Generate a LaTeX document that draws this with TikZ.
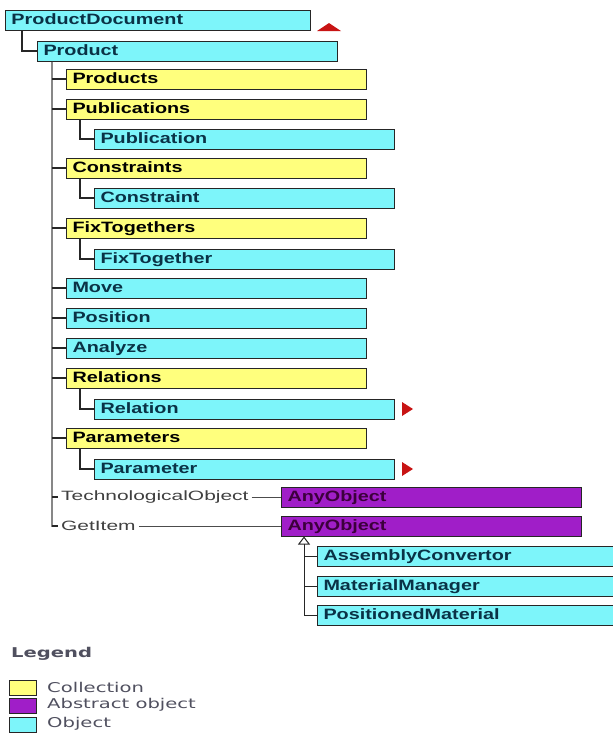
\documentclass[tikz,border=0pt]{standalone}
\usepackage{fontspec}
\usetikzlibrary{arrows.meta}
\newfontfamily\boxfont[FakeStretch=1.32]{Liberation Sans}
\newfontfamily\labelfont[FakeStretch=1.55]{Liberation Sans}
\newfontfamily\legendfont[FakeStretch=1.45]{DejaVu Sans}
\definecolor{objcyan}{RGB}{125,245,250}
\definecolor{collyellow}{RGB}{255,255,125}
\definecolor{abspurple}{RGB}{160,30,200}
\definecolor{objtext}{RGB}{10,50,70}
\definecolor{abstext}{RGB}{60,0,60}
\definecolor{trunkgray}{RGB}{135,135,135}
\definecolor{legendgray}{RGB}{80,80,95}
\definecolor{markred}{RGB}{200,20,20}
\begin{document}
\begin{tikzpicture}[x=1pt, y=-1pt,
    box/.style={draw=black!85, line width=1pt, anchor=west, minimum height=20pt,
        inner xsep=6pt, inner ysep=0pt, text width=288pt, align=left,
        text height=11pt, text depth=3pt,
        font=\boxfont\bfseries\fontsize{15pt}{15pt}\selectfont},
    obj/.style={box, fill=objcyan, text=objtext},
    coll/.style={box, fill=collyellow, text=black},
    abstract/.style={box, fill=abspurple, text=abstext},
    link/.style={anchor=west, inner xsep=3pt, inner ysep=0pt, text=black!75,
        font=\labelfont\fontsize{13.5pt}{13.5pt}\selectfont},
    tree/.style={draw=black!85, line width=1.2pt},
    trunk/.style={draw=trunkgray, line width=2pt},
    legsq/.style={draw=black!85, line width=1pt, minimum width=27pt, minimum height=15pt, inner sep=0pt},
    legtext/.style={anchor=west, inner xsep=3pt, text=legendgray,
        font=\legendfont\fontsize{13.5pt}{13.5pt}\selectfont}]
    \useasboundingbox (0,0) rectangle (613,740);

    \node[obj, text width=293pt] (productdoc) at (5,20) {ProductDocument};
    \node[obj] (product) at (37,51) {Product};
    \node[coll] (products) at (66,79) {Products};
    \node[coll] (publications) at (66,109) {Publications};
    \node[obj] (publication) at (94,139) {Publication};
    \node[coll] (constraints) at (66,168) {Constraints};
    \node[obj] (constraint) at (94,198) {Constraint};
    \node[coll] (fixtogethers) at (66,228) {FixTogethers};
    \node[obj] (fixtogether) at (94,259) {FixTogether};
    \node[obj] (move) at (66,288) {Move};
    \node[obj] (position) at (66,318) {Position};
    \node[obj] (analyze) at (66,348) {Analyze};
    \node[coll] (relations) at (66,378) {Relations};
    \node[obj] (relation) at (94,409) {Relation};
    \node[coll] (parameters) at (66,438) {Parameters};
    \node[obj] (parameter) at (94,469) {Parameter};
    \node[link] (techobj) at (58,497) {TechnologicalObject};
    \node[link] (getitem) at (58,526) {GetItem};
    \node[abstract] (anyobj1) at (281,497) {AnyObject};
    \node[abstract] (anyobj2) at (281,526) {AnyObject};
    \node[obj] (assembly) at (317,556) {AssemblyConvertor};
    \node[obj] (matman) at (317,586) {MaterialManager};
    \node[obj] (posmat) at (317,615) {PositionedMaterial};

    % tree lines
    \coordinate (trunk) at ([xshift=15pt]product.south west);
    \draw[tree] ([xshift=17pt]productdoc.south west) |- (product.west);
    \draw[trunk] (trunk) |- (getitem.west);
    \draw[tree] (trunk |- products.west) -- (products.west);
    \draw[tree] (trunk |- publications.west) -- (publications.west);
    \draw[tree] (trunk |- constraints.west) -- (constraints.west);
    \draw[tree] (trunk |- fixtogethers.west) -- (fixtogethers.west);
    \draw[tree] (trunk |- move.west) -- (move.west);
    \draw[tree] (trunk |- position.west) -- (position.west);
    \draw[tree] (trunk |- analyze.west) -- (analyze.west);
    \draw[tree] (trunk |- relations.west) -- (relations.west);
    \draw[tree] (trunk |- parameters.west) -- (parameters.west);
    \draw[tree] (trunk |- techobj.west) -- (techobj.west);
    \draw[tree] (trunk |- getitem.west) -- (getitem.west);
    \draw[tree] ([xshift=14pt]publications.south west) |- (publication.west);
    \draw[tree] ([xshift=14pt]constraints.south west) |- (constraint.west);
    \draw[tree] ([xshift=14pt]fixtogethers.south west) |- (fixtogether.west);
    \draw[tree] ([xshift=14pt]relations.south west) |- (relation.west);
    \draw[tree] ([xshift=14pt]parameters.south west) |- (parameter.west);
    \draw[tree, line width=1pt, draw=black!70] (techobj.east) -- (anyobj1.west);
    \draw[tree, line width=1pt, draw=black!70] (getitem.east) -- (anyobj2.west);

    % inheritance
    \coordinate (inh) at ([xshift=23pt]anyobj2.south west);
    \draw[tree, line width=1pt, -{Triangle[open, length=8pt, width=12pt]}] (posmat.west) -| (inh);
    \draw[tree, line width=1pt] (inh |- assembly.west) -- (assembly.west);
    \draw[tree, line width=1pt] (inh |- matman.west) -- (matman.west);

    % red marks
    \fill[markred] (317,31) -- (329,23) -- (341,31) -- cycle;
    \fill[markred] (402,402) -- (413,409) -- (402,416) -- cycle;
    \fill[markred] (402,462) -- (413,469) -- (402,476) -- cycle;

    % legend
    \node[anchor=west, inner sep=0pt, text=legendgray,
        font=\legendfont\bfseries\fontsize{13.5pt}{13.5pt}\selectfont] (legend) at (11,654) {Legend};
    \node[legsq, fill=collyellow] (sqcoll) at (22.5,688) {};
    \node[legsq, fill=abspurple] (sqabs) at (22.5,706) {};
    \node[legsq, fill=objcyan] (sqobj) at (22.5,725) {};
    \node[legtext] (txtcoll) at (44,687) {Collection};
    \node[legtext] (txtabs) at (44,705) {Abstract object};
    \node[legtext] (txtobj) at (44,724) {Object};
\end{tikzpicture}
\end{document}
